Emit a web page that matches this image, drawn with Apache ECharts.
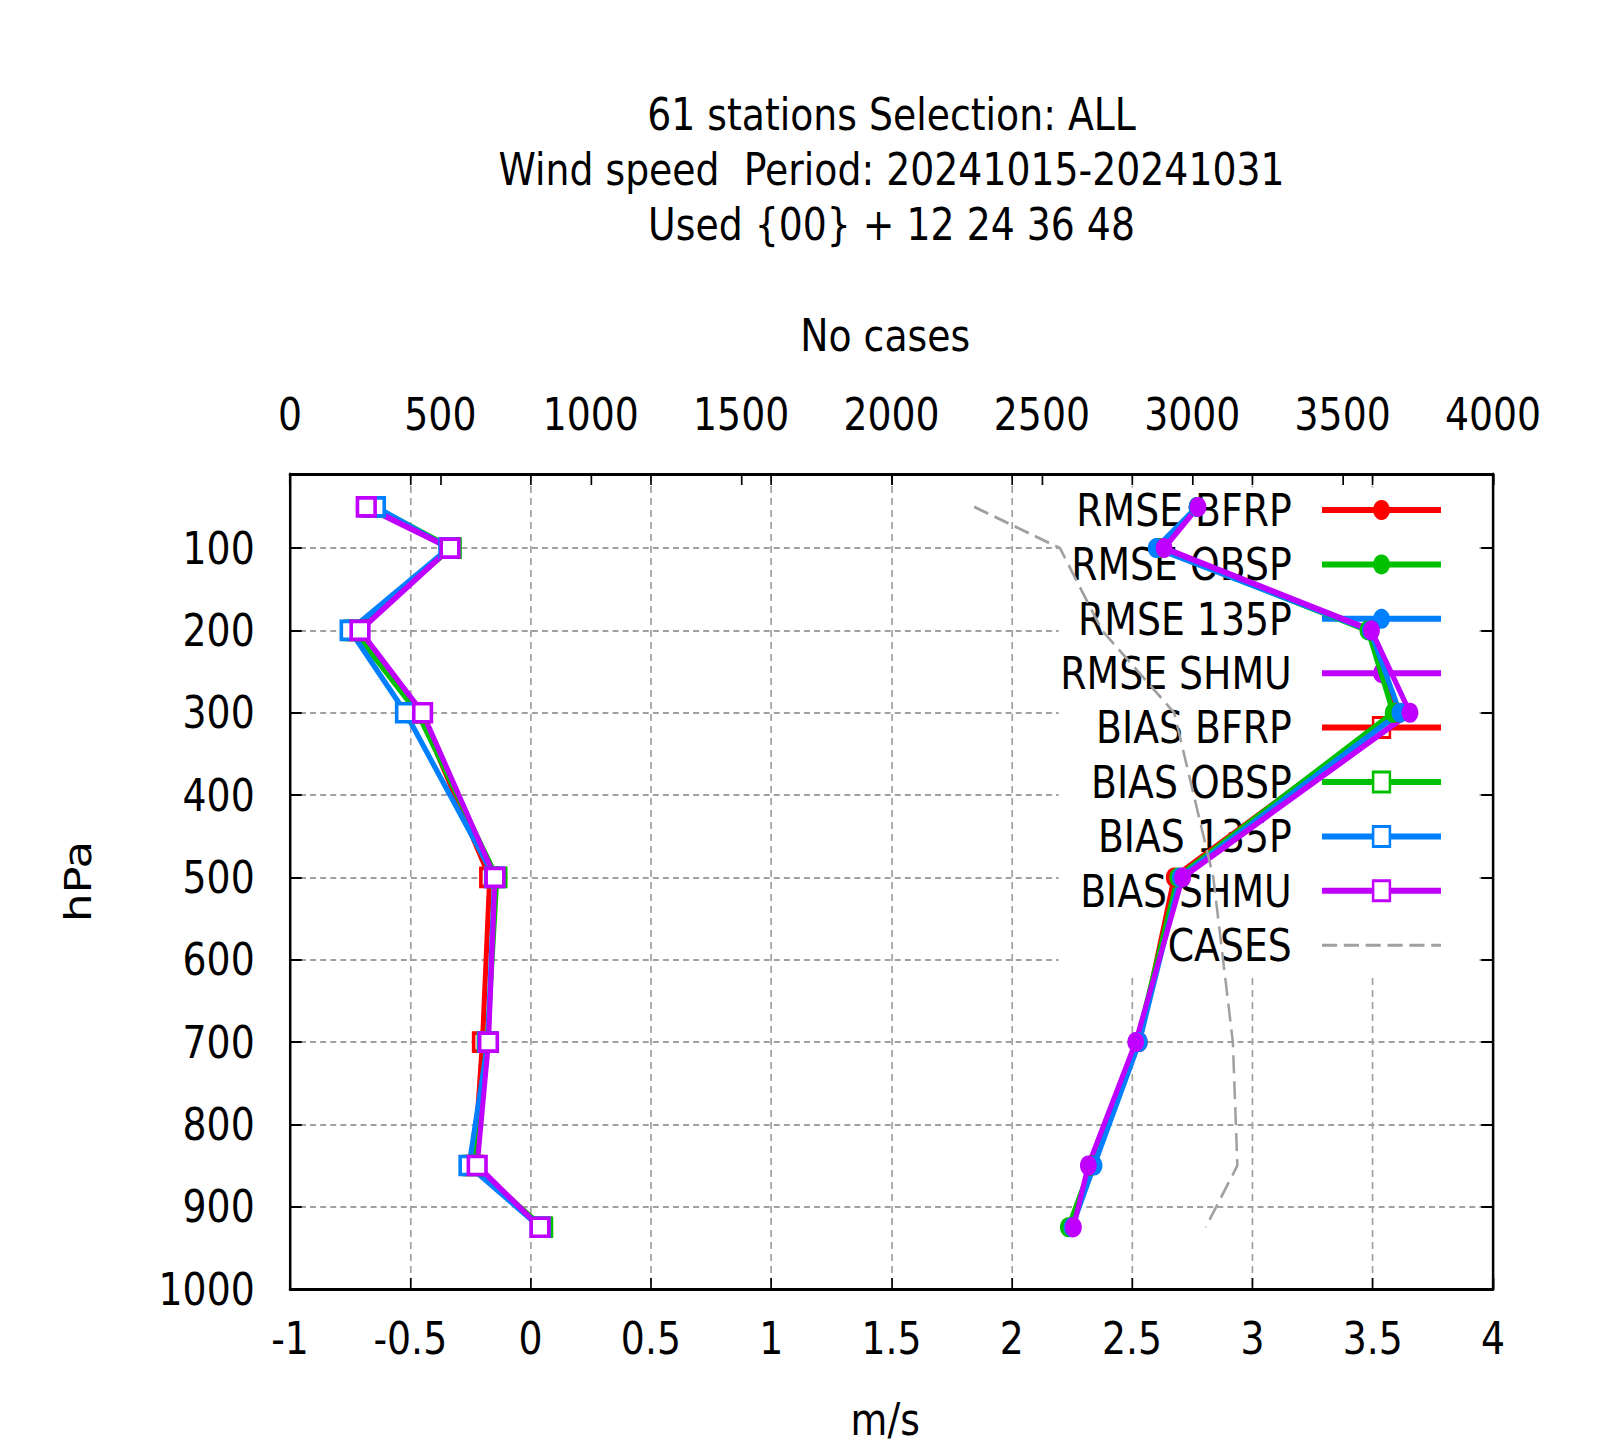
<!DOCTYPE html>
<html><head><meta charset="utf-8">
<script src="https://cdn.jsdelivr.net/npm/echarts@6/dist/echarts.min.js"></script>
<style>
html,body{margin:0;padding:0;overflow:hidden;background:#fff;width:1597px;height:1447px;}
#chart{width:1901px;height:1447px;transform:scaleX(0.84);transform-origin:0 0;}
</style></head><body><div id="chart"></div>
<script>
// ---- data ----
const levels = [50, 100, 200, 300, 500, 700, 850, 925];
const rmseBFRP = [2.77, 2.615, 3.49, 3.60, 2.675, 2.53, 2.33, 2.25];
const rmseOBSP = [2.77, 2.61, 3.48, 3.585, 2.69, 2.52, 2.33, 2.235];
const rmse135P = [2.77, 2.60, 3.49, 3.613, 2.70, 2.53, 2.342, 2.25];
const rmseSHMU = [2.774, 2.633, 3.495, 3.655, 2.71, 2.515, 2.318, 2.256];
const biasBFRP = [-0.66, -0.335, -0.72, -0.46, -0.17, -0.20, -0.235, 0.045];
const biasOBSP = [-0.65, -0.33, -0.735, -0.47, -0.14, -0.18, -0.24, 0.05];
const bias135P = [-0.645, -0.34, -0.75, -0.52, -0.15, -0.178, -0.256, 0.04];
const biasSHMU = [-0.683, -0.335, -0.709, -0.449, -0.148, -0.175, -0.222, 0.039];
const casesCount = [2275, 2560, 2700, 2940, 3070, 3135, 3150, 3045];
const seriesNames = ['RMSE BFRP','RMSE OBSP','RMSE 135P','RMSE SHMU','BIAS BFRP','BIAS OBSP','BIAS 135P','BIAS SHMU','CASES'];
const titleLines = ['61 stations Selection: ALL', 'Wind speed  Period: 20241015-20241031', 'Used {00} + 12 24 36 48'];
const xName = 'm/s', x2Name = 'No cases', yName = 'hPa';

// ---- layout (page is drawn wide and squeezed horizontally) ----
const SX = 0.84, W = 1901;
const ux = v => v / SX;
const FONT = 'DejaVu Sans';
const colors = ['#ff0000', '#00c000', '#0080ff', '#c000ff'];
const gridC = '#a0a0a0';

function pairs(vals) { return vals.map((v, i) => [v, levels[i]]); }
const rmse = [rmseBFRP, rmseOBSP, rmse135P, rmseSHMU];
const bias = [biasBFRP, biasOBSP, bias135P, biasSHMU];

const series = [];
rmse.forEach((arr, i) => series.push({
  name: seriesNames[i], type: 'line', xAxisIndex: 0, yAxisIndex: 0,
  data: pairs(arr), symbol: 'circle', symbolSize: 20,
  lineStyle: { color: colors[i], width: 6 }, itemStyle: { color: colors[i] },
  silent: true, animation: false
}));
bias.forEach((arr, i) => series.push({
  name: seriesNames[4 + i], type: 'line', xAxisIndex: 0, yAxisIndex: 0,
  data: pairs(arr), symbol: 'rect', symbolSize: [21, 18],
  lineStyle: { color: colors[i], width: 6 },
  itemStyle: { color: '#fff', borderColor: colors[i], borderWidth: 4 },
  silent: true, animation: false
}));
series.push({
  name: seriesNames[8], type: 'line', xAxisIndex: 1, yAxisIndex: 0,
  data: pairs(casesCount), symbol: 'none',
  lineStyle: { color: gridC, width: 3, type: [18, 8] }, itemStyle: { color: gridC },
  silent: true, animation: false
});

const legendData = seriesNames.map((n, k) => {
  if (k < 4) return { name: n, itemStyle: { color: colors[k], borderWidth: 0 },
                      lineStyle: { color: colors[k], width: 6 } };
  if (k < 8) return { name: n, itemStyle: { color: '#fff', borderColor: colors[k - 4], borderWidth: 3 },
                      lineStyle: { color: colors[k - 4], width: 6 } };
  return { name: n, itemStyle: { color: 'rgba(0,0,0,0)', borderWidth: 0, opacity: 0 },
           lineStyle: { color: gridC, width: 3, type: [18, 8] } };
});

const txt = { fontFamily: FONT, fontSize: 45, color: '#000' };
const nameTxt = { fontFamily: FONT, fontSize: 45, color: '#000', padding: [0, 15, 0, 0] };
const plain = v => String(v);
const tickStyle = { color: '#000', width: 2 };

const chart = echarts.init(document.getElementById('chart'), null, { renderer: 'svg' });
chart.setOption({
  backgroundColor: '#fff',
  animation: false,
  graphic: titleLines.map((t, i) => ({
    type: 'text', x: ux(891.5), y: 114 + 55 * i, silent: true,
    style: { text: t, fontFamily: FONT, fontSize: 45, fill: '#000', textAlign: 'center', textVerticalAlign: 'middle' }
  })),
  grid: { left: ux(290), right: W - ux(1493), top: 474, bottom: 149, containLabel: false },
  legend: {
    orient: 'vertical', align: 'right', right: W - ux(1478), top: 487.5,
    padding: [0, ux(1478 - 1441) - 3, 9, 2],
    itemWidth: ux(1441 - 1322), itemHeight: 25, itemGap: 9.4,
    backgroundColor: '#fff', z: 1, selectedMode: false,
    textStyle: { fontFamily: FONT, fontSize: 45, lineHeight: 45, color: '#000', padding: [0, 31, 0, 0] },
    data: legendData
  },
  xAxis: [
    { type: 'value', position: 'bottom', min: -1, max: 4, interval: 0.5,
      name: xName, nameLocation: 'middle', nameGap: 108, nameTextStyle: nameTxt,
      axisLine: { show: true, onZero: false, lineStyle: { color: '#000', width: 3 } },
      axisTick: { inside: true, length: 11, lineStyle: tickStyle },
      axisLabel: Object.assign({ margin: 27, formatter: plain }, txt),
      splitLine: { show: true, showMinLine: false, showMaxLine: false, lineStyle: { color: gridC, width: 2, type: [7, 5] } } },
    { type: 'value', position: 'top', min: 0, max: 4000, interval: 500,
      name: x2Name, nameLocation: 'middle', nameGap: 116, nameTextStyle: nameTxt,
      axisLine: { show: true, onZero: false, lineStyle: { color: '#000', width: 3 } },
      axisTick: { inside: true, length: 11, lineStyle: tickStyle },
      axisLabel: Object.assign({ margin: 37, formatter: plain }, txt),
      splitLine: { show: false } },
    { type: 'value', position: 'top', min: -1, max: 4, interval: 0.5,
      axisLine: { show: false, onZero: false },
      axisTick: { inside: true, length: 11, lineStyle: tickStyle },
      axisLabel: { show: false }, splitLine: { show: false } }
  ],
  yAxis: [
    { type: 'value', position: 'left', inverse: true, min: 10, max: 1000, splitNumber: 10,
      name: yName, nameLocation: 'middle', nameGap: 230, nameTextStyle: txt,
      axisLine: { show: true, onZero: false, lineStyle: { color: '#000', width: 3 } },
      axisTick: { inside: true, length: 14, lineStyle: tickStyle },
      axisLabel: Object.assign({ margin: 42, showMinLabel: false, formatter: plain }, txt),
      splitLine: { show: true, showMinLine: false, showMaxLine: false, lineStyle: { color: gridC, width: 2, type: [7, 5] } } },
    { type: 'value', position: 'right', inverse: true, min: 10, max: 1000, splitNumber: 10,
      axisLine: { show: true, onZero: false, lineStyle: { color: '#000', width: 3 } },
      axisTick: { inside: true, length: 14, lineStyle: tickStyle },
      axisLabel: { show: false }, splitLine: { show: false } }
  ],
  series: series
});
</script></body></html>
